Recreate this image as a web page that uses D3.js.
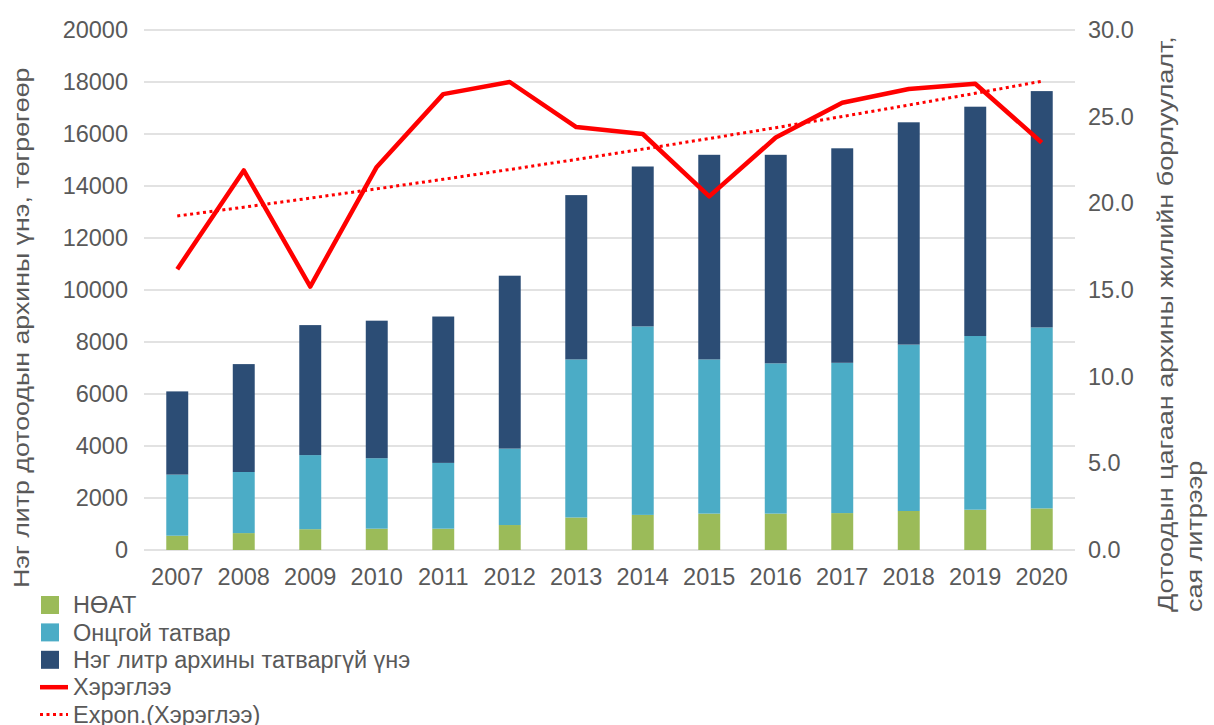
<!DOCTYPE html>
<html>
<head>
<meta charset="utf-8">
<script src="https://cdn.jsdelivr.net/npm/d3@7"></script>
<style>
  body { margin: 0; background: #fff; }
  text { font-family: "Liberation Sans", Arial, sans-serif; fill: #595959; }
</style>
</head>
<body>
<div id="chart"></div>
<script>
// data
var years = ["2007", "2008", "2009", "2010", "2011", "2012", "2013", "2014", "2015", "2016", "2017", "2018", "2019", "2020"];
var vat = [550, 650, 800, 820, 820, 960, 1250, 1350, 1400, 1400, 1420, 1500, 1550, 1600];
var excise = [2350, 2350, 2850, 2710, 2530, 2940, 6080, 7250, 5930, 5780, 5780, 6400, 6680, 6960];
var basePrice = [3200, 4150, 5000, 5290, 5630, 6650, 6320, 6150, 7870, 8020, 8250, 8550, 8820, 9090];
var consumption = [16.2, 21.9, 15.2, 22.1, 26.3, 27.0, 24.4, 24.0, 20.4, 23.8, 25.8, 26.6, 26.9, 23.5];

var leftTicks = [0, 2000, 4000, 6000, 8000, 10000, 12000, 14000, 16000, 18000, 20000];
var rightTicks = [0, 5, 10, 15, 20, 25, 30];

var seriesNames = ["НӨАТ", "Онцгой татвар", "Нэг литр архины татваргүй үнэ"];
var seriesColors = ["#9bbb59", "#4bacc6", "#2c4d75"];

var svgWidth = 1214;
var svgHeight = 725;

var margin = { top: 30, left: 144, right: 139, bottom: 175 };
var width = svgWidth - margin.left - margin.right;
var height = svgHeight - margin.top - margin.bottom;

var svg = d3.select("#chart")
  .append("svg")
  .attr("width", svgWidth)
  .attr("height", svgHeight);

var chartGroup = svg.append("g")
  .attr("transform", `translate(${margin.left}, ${margin.top})`);

// scales
var xScale = d3.scaleBand()
  .domain(years)
  .range([0, width])
  .paddingInner(0.67)
  .paddingOuter(0.335);

var yLeft = d3.scaleLinear().domain([0, 20000]).range([height, 0]);
var yRight = d3.scaleLinear().domain([0, 30]).range([height, 0]);

// gridlines
chartGroup.append("g")
  .selectAll("line")
  .data(leftTicks)
  .enter()
  .append("line")
  .attr("x1", 0)
  .attr("x2", width)
  .attr("y1", d => yLeft(d))
  .attr("y2", d => yLeft(d))
  .attr("stroke", "#d9d9d9")
  .attr("stroke-width", 1.5);

// axes
var leftAxis = d3.axisLeft(yLeft).tickValues(leftTicks).tickSize(0).tickPadding(16).tickFormat(d3.format("d"));
var rightAxis = d3.axisRight(yRight).tickValues(rightTicks).tickSize(0).tickPadding(13).tickFormat(d3.format(".1f"));
var bottomAxis = d3.axisBottom(xScale).tickSize(0).tickPadding(18.5);

var gl = chartGroup.append("g").call(leftAxis);
var gr = chartGroup.append("g").attr("transform", `translate(${width}, 0)`).call(rightAxis);
var gb = chartGroup.append("g").attr("transform", `translate(0, ${height})`).call(bottomAxis);

[gl, gr, gb].forEach(function(g) {
  g.select(".domain").remove();
  g.selectAll("text").style("font-size", "23.5px").attr("fill", "#595959");
});

// stacked bars
var table = years.map(function(y, i) {
  return { year: y, vat: vat[i], excise: excise[i], base: basePrice[i] };
});
var stack = d3.stack().keys(["vat", "excise", "base"]);
var layers = stack(table);

chartGroup.selectAll(".layer")
  .data(layers)
  .enter()
  .append("g")
  .attr("class", "layer")
  .attr("fill", (d, i) => seriesColors[i])
  .selectAll("rect")
  .data(d => d)
  .enter()
  .append("rect")
  .attr("x", d => xScale(d.data.year))
  .attr("width", xScale.bandwidth())
  .attr("y", d => yLeft(d[1]))
  .attr("height", d => yLeft(d[0]) - yLeft(d[1]));

// consumption line on right axis
var cx = d => xScale(d.year) + xScale.bandwidth() / 2;
var lineData = years.map((y, i) => ({ year: y, v: consumption[i] }));

var line = d3.line()
  .x(cx)
  .y(d => yRight(d.v));

chartGroup.append("path")
  .datum(lineData)
  .attr("d", line)
  .attr("fill", "none")
  .attr("stroke", "#ff0000")
  .attr("stroke-width", 4.5)
  .attr("stroke-linejoin", "round");

// exponential trendline (least squares on log values, like Excel)
var n = consumption.length;
var mx = d3.mean(d3.range(n));
var my = d3.mean(consumption, v => Math.log(v));
var sxy = d3.sum(d3.range(n), i => (i - mx) * (Math.log(consumption[i]) - my));
var sxx = d3.sum(d3.range(n), i => (i - mx) * (i - mx));
var b = sxy / sxx;
var a = my - b * mx;
var trendData = years.map((y, i) => ({ year: y, v: Math.exp(a + b * i) }));

chartGroup.append("path")
  .datum(trendData)
  .attr("d", line)
  .attr("fill", "none")
  .attr("stroke", "#ff0000")
  .attr("stroke-width", 3)
  .attr("stroke-dasharray", "3,3.5");

// axis titles (the original font runs wide, so stretch along the text)
svg.append("text")
  .attr("transform", "translate(29, 588) rotate(-90) scale(1.19, 1)")
  .style("font-size", "22.5px")
  .text("Нэг литр дотоодын архины үнэ, төгрөгөөр");

var rt = svg.append("text")
  .attr("transform", "translate(1173, 612) rotate(-90) scale(1.2, 1)")
  .style("font-size", "22.5px");
rt.append("tspan").attr("x", 0).attr("y", 0).text("Дотоодын цагаан архины жилийн борлуулалт,");
rt.append("tspan").attr("x", 0).attr("y", 29).text("сая литрээр");

// legend
var legend = svg.append("g").attr("transform", "translate(40, 605)");
var legendRows = seriesNames.concat(["Хэрэглээ", "Expon.(Хэрэглээ)"]);

legendRows.forEach(function(name, i) {
  var row = legend.append("g").attr("transform", `translate(0, ${i * 27.4})`);
  if (i < 3) {
    row.append("rect")
      .attr("x", 1).attr("y", -9)
      .attr("width", 18).attr("height", 18)
      .attr("fill", seriesColors[i]);
  } else {
    row.append("line")
      .attr("x1", 0).attr("x2", 28)
      .attr("y1", 0).attr("y2", 0)
      .attr("stroke", "#ff0000")
      .attr("stroke-width", i == 3 ? 4.5 : 3)
      .attr("stroke-dasharray", i == 3 ? null : "3,3.5");
  }
  row.append("text")
    .attr("x", 33)
    .attr("dy", "0.35em")
    .style("font-size", "23.5px")
    .text(name);
});
</script>
</body>
</html>
